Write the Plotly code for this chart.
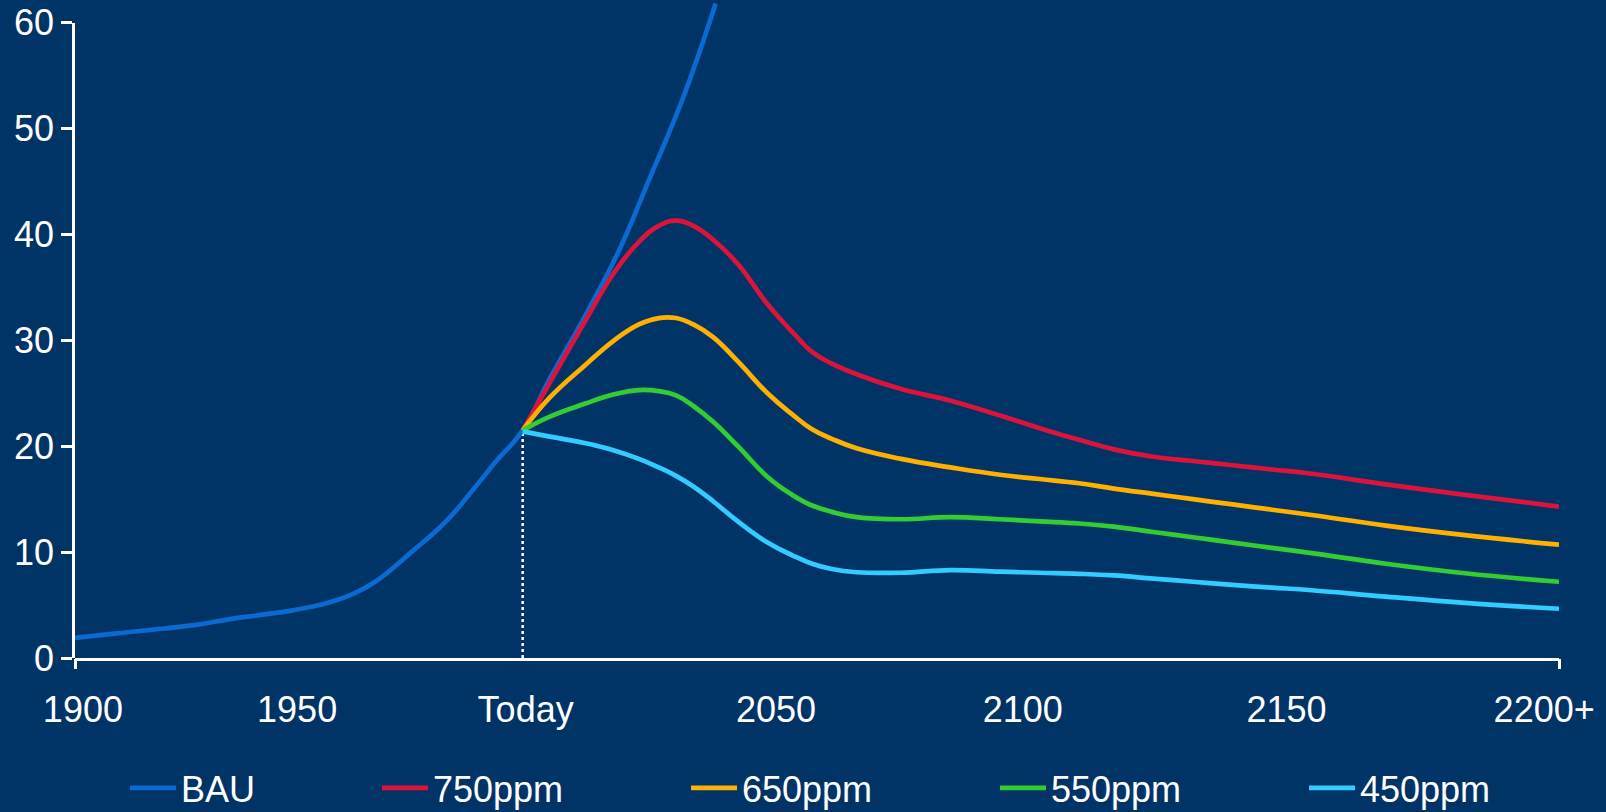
import plotly.graph_objects as go

# ---------------- data ----------------
bau_years = [1900, 1907, 1914, 1924, 1931, 1938, 1944, 1951, 1956, 1961, 1968,
             1975, 1981, 1985, 1990.5, 1996, 2003, 2010, 2016, 2023, 2029.5]
bau = [1.9, 2.25, 2.6, 3.1, 3.65, 4.1, 4.5, 5.2, 6.0, 7.3, 10.0,
       12.9, 16.2, 18.5, 21.5, 26.4, 32.2, 38.5, 45.1, 53.0, 61.8]

scen_years = [1990.5, 1996, 2003, 2009, 2014, 2018, 2021.5, 2025, 2029, 2034,
              2040, 2045, 2049, 2053, 2058, 2067, 2077, 2087, 2095, 2103,
              2110, 2118, 2126, 2134, 2142, 2150, 2165, 2181, 2200]
ppm750 = [21.5, 26.0, 31.7, 36.4, 39.3, 40.8, 41.3, 40.8, 39.5, 37.2,
          33.4, 30.8, 28.9, 27.8, 26.8, 25.4, 24.3, 22.9, 21.7, 20.6,
          19.7, 19.0, 18.6, 18.2, 17.8, 17.4, 16.4, 15.4, 14.3]
ppm650 = [21.5, 24.6, 27.6, 30.0, 31.5, 32.1, 32.1, 31.5, 30.3, 28.0,
          25.0, 23.0, 21.6, 20.7, 19.8, 18.8, 18.0, 17.3, 16.9, 16.5,
          16.0, 15.5, 15.0, 14.5, 14.0, 13.5, 12.5, 11.6, 10.7]
ppm550 = [21.5, 22.8, 24.0, 24.9, 25.3, 25.2, 24.8, 23.8, 22.3, 20.0,
          17.1, 15.4, 14.4, 13.8, 13.3, 13.1, 13.3, 13.1, 12.9, 12.7,
          12.4, 11.9, 11.4, 10.9, 10.4, 9.9, 8.9, 8.0, 7.2]
ppm450 = [21.4, 20.9, 20.3, 19.6, 18.8, 18.0, 17.2, 16.2, 14.8, 12.9,
          10.9, 9.7, 8.9, 8.4, 8.1, 8.05, 8.3, 8.15, 8.05, 7.95,
          7.8, 7.5, 7.2, 6.9, 6.65, 6.4, 5.8, 5.2, 4.65]

today_year = 1990.5
today_value = 21.5

series_names = ["BAU", "750ppm", "650ppm", "550ppm", "450ppm"]

x_tick_pos = [1901.6, 1944.9, 1991.1, 2041.7, 2091.6, 2144.9, 2197.0]
x_tick_text = ["1900", "1950", "Today", "2050", "2100", "2150", "2200+"]
x_range = [1900, 2200]
y_ticks = [0, 10, 20, 30, 40, 50, 60]

# ---------------- style ----------------
BG = "#003366"
FONT = "Liberation Sans, Arial, sans-serif"
colors = ["#0A6AD0", "#DC143C", "#FFB000", "#33CC33", "#33CCFF"]
LW = 4.7

W, H = 1606, 812
ML, MR, MT, MB = 75, 47, 0, 154
plot_h = H - MT - MB
px_per_unit = 10.59
y_top = plot_h / px_per_unit

fig = go.Figure()

# dotted "today" marker
fig.add_trace(go.Scatter(
    x=[today_year, today_year], y=[0, today_value], mode="lines",
    line=dict(color="white", width=2.5, dash="dot"),
    showlegend=False, hoverinfo="skip"))

all_y = [bau, ppm750, ppm650, ppm550, ppm450]
all_x = [bau_years] + [scen_years] * 4
widths = [191, 248, 248, 248, 248]
for name, xs, ys, c, lw in zip(series_names, all_x, all_y, colors, widths):
    fig.add_trace(go.Scatter(
        x=xs, y=ys, mode="lines", name=name,
        line=dict(color=c, width=LW, shape="spline", smoothing=1.25),
        legendwidth=lw))

# helper traces so the decoration axes are drawn
fig.add_trace(go.Scatter(x=[None], y=[None], xaxis="x", yaxis="y2",
                         showlegend=False, hoverinfo="skip"))
fig.add_trace(go.Scatter(x=[None], y=[None], xaxis="x2", yaxis="y",
                         showlegend=False, hoverinfo="skip"))

fig.update_layout(
    width=W, height=H,
    margin=dict(l=ML, r=MR, t=MT, b=MB, pad=0, autoexpand=False),
    paper_bgcolor=BG, plot_bgcolor="rgba(0,0,0,0)",
    font=dict(family=FONT, size=36, color="white"),
    showlegend=True,
    legend=dict(
        orientation="h", xref="container", yref="container",
        x=125 / W, xanchor="left", y=1 - 758 / H, yanchor="top",
        font=dict(family=FONT, size=36, color="white"),
        bgcolor="rgba(0,0,0,0)", borderwidth=0,
        itemwidth=46, entrywidthmode="pixels"),
    xaxis=dict(
        range=x_range, showgrid=False, zeroline=False,
        showline=True, linecolor="white", linewidth=2.5,
        ticks="", tickmode="array", tickvals=x_tick_pos, ticktext=x_tick_text,
        tickfont=dict(family=FONT, size=36, color="white"),
        ticklabelstandoff=18, fixedrange=True),
    xaxis2=dict(
        range=x_range, overlaying="x", anchor="y", side="bottom",
        showgrid=False, zeroline=False, showline=False,
        ticks="outside", ticklen=10, tickwidth=2.5, tickcolor="white",
        tickmode="array", tickvals=x_range, showticklabels=False),
    yaxis=dict(range=[0, y_top], domain=[0, 1], visible=False,
               showgrid=False, zeroline=False),
    yaxis2=dict(
        range=[0, 60], domain=[0, 60 / y_top], anchor="x",
        showgrid=False, zeroline=False,
        showline=True, linecolor="white", linewidth=2.5,
        ticks="outside", ticklen=11, tickwidth=2.5, tickcolor="white",
        tickmode="array", tickvals=y_ticks,
        tickfont=dict(family=FONT, size=36, color="white"),
        ticklabelstandoff=0),
)

fig.write_html("out.html")
